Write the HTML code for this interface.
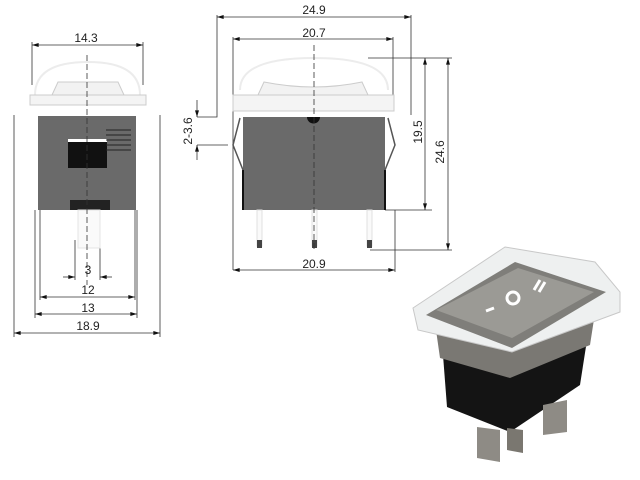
<!DOCTYPE html>
<html><head><style>body{margin:0;background:#fff}svg{display:block}text{font-family:"Liberation Sans",sans-serif;font-size:12px;fill:#222}</style></head><body>
<svg width="640" height="480" viewBox="0 0 640 480" xmlns="http://www.w3.org/2000/svg">
<defs><marker id="a" viewBox="0 0 10 6" refX="10" refY="3" markerWidth="10" markerHeight="5" orient="auto-start-reverse"><path d="M0,0L10,3L0,6z" fill="#111"/></marker></defs>
<g stroke="#333" stroke-width="0.8" fill="none">
<path d="M32,42V85M143,42V85M14,115V337M160,115V337M40,200V300M135,200V300M35,210V318M137,210V318M75,240V280M100,240V280"/>
<line x1="32" y1="45" x2="143" y2="45" marker-start="url(#a)" marker-end="url(#a)"/>
<line x1="63" y1="277" x2="75" y2="277" marker-end="url(#a)"/><line x1="112" y1="277" x2="100" y2="277" marker-end="url(#a)"/>
<line x1="40" y1="297" x2="135" y2="297" marker-start="url(#a)" marker-end="url(#a)"/>
<line x1="35" y1="314" x2="137" y2="314" marker-start="url(#a)" marker-end="url(#a)"/>
<line x1="14" y1="333" x2="160" y2="333" marker-start="url(#a)" marker-end="url(#a)"/>
<path d="M217,15V117H197M228,145H197M233,37V270M393,37V100M411,15V115M395,210V272M368,58H452M385,210H432M370,250H452"/>
<line x1="217" y1="17" x2="411" y2="17" marker-start="url(#a)" marker-end="url(#a)"/>
<line x1="233" y1="39" x2="393" y2="39" marker-start="url(#a)" marker-end="url(#a)"/>
<line x1="233" y1="270" x2="395" y2="270" marker-start="url(#a)" marker-end="url(#a)"/>
<line x1="425" y1="58" x2="425" y2="210" marker-start="url(#a)" marker-end="url(#a)"/>
<line x1="448" y1="58" x2="448" y2="250" marker-start="url(#a)" marker-end="url(#a)"/>
<line x1="197" y1="100" x2="197" y2="117" marker-end="url(#a)"/><line x1="197" y1="160" x2="197" y2="145" marker-end="url(#a)"/>
</g>
<path d="M35,95Q35,62 88,62Q140,62 140,95" fill="none" stroke="#ececec" stroke-width="2"/>
<path d="M52,95L58,82H118L124,95Z" fill="#f2f2f2" stroke="#ccc"/>
<rect x="30" y="95" width="116" height="10" fill="#f4f4f4" stroke="#ccc"/>
<rect x="38" y="116" width="98" height="94" fill="#6a6a6a"/>
<rect x="68" y="142" width="39" height="26" fill="#111"/><rect x="68" y="139" width="39" height="3" fill="#fff"/>
<g stroke="#222"><path d="M106,130H131M106,135H131M106,140H131M106,145H131M106,150H131"/></g>
<rect x="70" y="200" width="40" height="10" fill="#222"/>
<rect x="78" y="210" width="22" height="38" fill="#fafafa" stroke="#e4e4e4"/>
<line x1="87" y1="55" x2="87" y2="285" stroke="#333" stroke-width="0.8" stroke-dasharray="6,3"/>
<path d="M240,90Q240,58 314,58Q388,58 388,90" fill="none" stroke="#ececec" stroke-width="2"/>
<path d="M258,95L264,82Q314,92 362,82L368,95Z" fill="#f2f2f2" stroke="#ccc"/>
<rect x="233" y="95" width="161" height="16" fill="#f4f4f4" stroke="#ccc"/>
<rect x="243" y="117" width="142" height="93" fill="#6a6a6a"/>
<path d="M243,170V210M385,170V210" stroke="#111" stroke-width="2"/>
<path d="M240,118L233,145L243,170M388,118L395,145L385,170" fill="none" stroke="#555" stroke-width="1.5"/>
<path d="M307,117A6,6 0 0 0 320,117Z" fill="#111"/>
<g fill="#fafafa" stroke="#e0e0e0"><rect x="257" y="210" width="5" height="36"/><rect x="312" y="210" width="5" height="36"/><rect x="367" y="210" width="5" height="36"/></g>
<g fill="#444"><rect x="257" y="240" width="5" height="8"/><rect x="312" y="240" width="5" height="8"/><rect x="367" y="240" width="5" height="8"/></g>
<line x1="314" y1="45" x2="314" y2="250" stroke="#333" stroke-width="0.8" stroke-dasharray="6,3"/>
<text x="86" y="42" text-anchor="middle">14.3</text>
<text x="88" y="274" text-anchor="middle">3</text>
<text x="88" y="294" text-anchor="middle">12</text>
<text x="88" y="312" text-anchor="middle">13</text>
<text x="88" y="330" text-anchor="middle">18.9</text>
<text x="314" y="14" text-anchor="middle">24.9</text>
<text x="314" y="37" text-anchor="middle">20.7</text>
<text x="314" y="268" text-anchor="middle">20.9</text>
<text transform="translate(192,131) rotate(-90)" text-anchor="middle">2-3.6</text>
<text transform="translate(422,132) rotate(-90)" text-anchor="middle">19.5</text>
<text transform="translate(444,152) rotate(-90)" text-anchor="middle">24.6</text>
<!-- photo -->
<path d="M443,355L587,340L580,385L510,432L447,407Z" fill="#141414"/>
<path d="M436,330L510,345L597,300L590,345L510,378L440,358Z" fill="#7a7873"/>
<path d="M413,308L505,247L595,262L620,292L620,312L512,352L418,330Z" fill="#eef0f0" stroke="#c8c8c8"/>
<path d="M426,315L515,262L606,292L512,348Z" fill="#7f7e7a"/>
<path d="M436,310L518,268L594,292L512,338Z" fill="#9b9a95"/>
<path d="M477,427L500,430L500,462L477,458Z" fill="#8e8b85"/>
<path d="M507,428L523,430L523,453L507,450Z" fill="#7a7770"/>
<path d="M543,405L567,400L567,432L543,435Z" fill="#8e8b85"/>
<g stroke="#fff" stroke-width="3" fill="none"><line x1="486" y1="311" x2="494" y2="308"/><circle cx="513" cy="298" r="6"/><line x1="534" y1="290" x2="540" y2="280"/><line x1="539" y1="292" x2="545" y2="282"/></g>
</svg>
</body></html>
